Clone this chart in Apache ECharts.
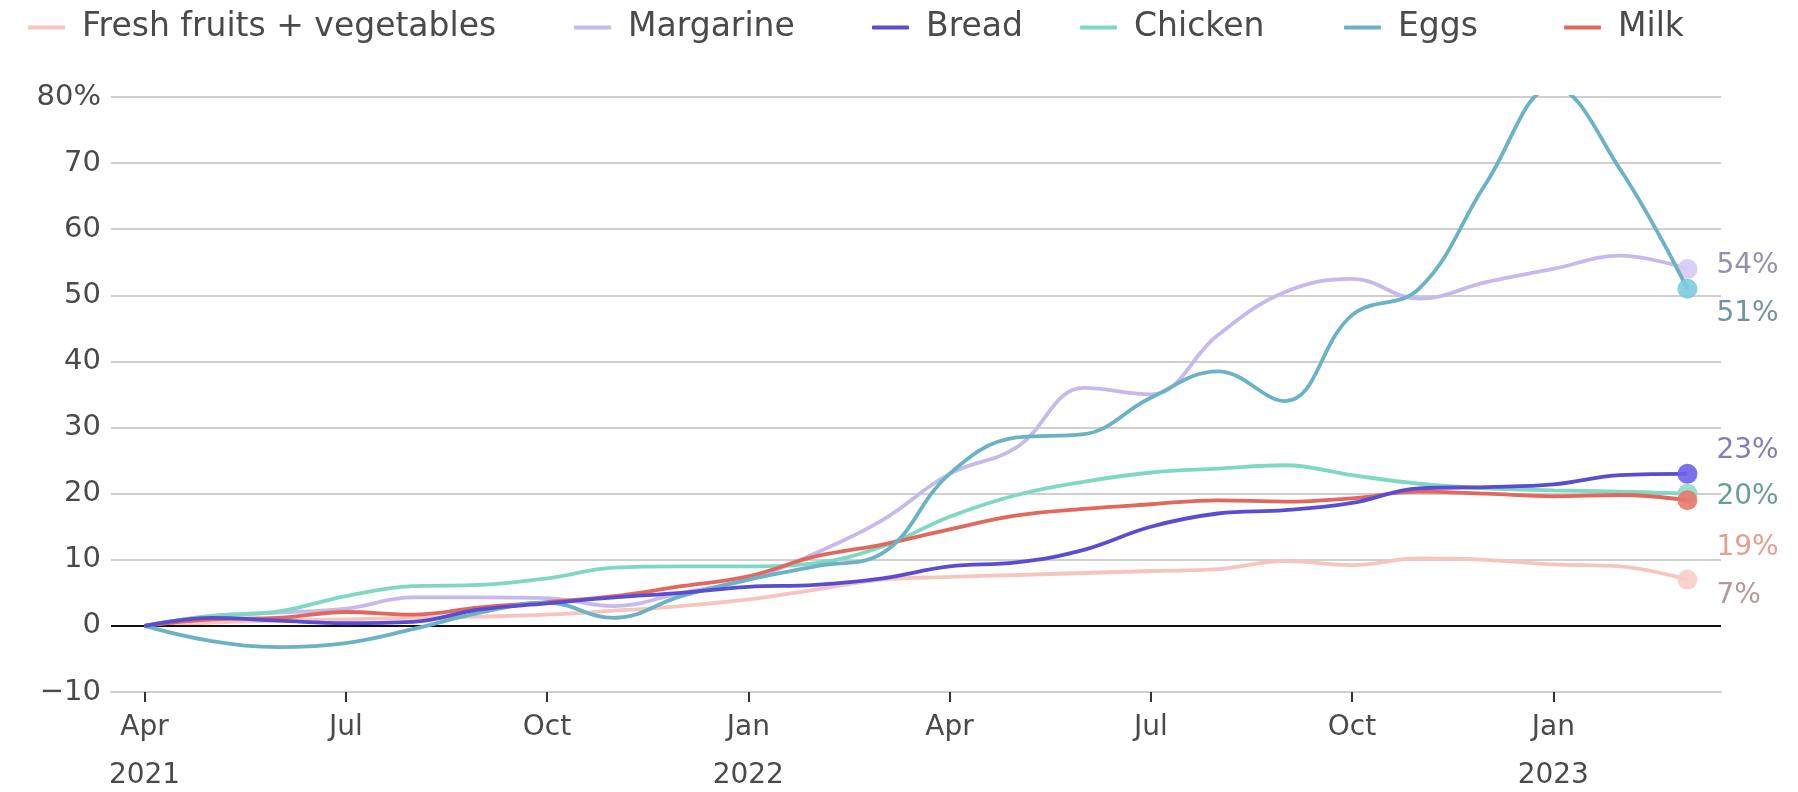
<!DOCTYPE html>
<html>
<head>
<meta charset="utf-8">
<title>Price change since April 2021</title>
<script src="https://cdn.jsdelivr.net/npm/echarts@6/dist/echarts.min.js"></script>
<style>
  html, body { margin: 0; padding: 0; background: #ffffff; }
  #chart { width: 1798px; height: 792px; }
</style>
</head>
<body>
<div id="chart"></div>
<script>
// Monthly categories, April 2021 through March 2023
const months = ['Apr\n2021', 'May', 'Jun', 'Jul', 'Aug', 'Sep', 'Oct', 'Nov', 'Dec',
  'Jan\n2022', 'Feb', 'Mar', 'Apr', 'May', 'Jun', 'Jul', 'Aug', 'Sep', 'Oct', 'Nov', 'Dec',
  'Jan\n2023', 'Feb', 'Mar'];

// Cumulative price change (%) since April 2021
const freshProduce = [0, 0.5, 0.8, 1.0, 1.2, 1.4, 1.7, 2.3, 3.0, 4.0, 5.5, 7.0, 7.4, 7.7, 8.0, 8.3, 8.6, 9.8, 9.2, 10.2, 10.0, 9.3, 9.0, 7];
const margarine = [0, 1.5, 2.0, 2.6, 4.3, 4.3, 4.2, 3.0, 5.0, 7.0, 11.0, 16.0, 23.0, 27.0, 36.0, 35.0, 44.0, 50.5, 52.5, 49.5, 52.0, 54.0, 56.0, 54];
const bread = [0, 1.2, 0.8, 0.4, 0.6, 2.5, 3.4, 4.3, 5.0, 5.9, 6.2, 7.2, 9.0, 9.6, 11.5, 15.0, 17.0, 17.5, 18.6, 20.8, 21.0, 21.4, 22.8, 23];
const chicken = [0, 1.5, 2.2, 4.5, 6.0, 6.2, 7.2, 8.8, 9.0, 9.0, 9.5, 12.0, 16.5, 19.8, 21.8, 23.2, 23.8, 24.3, 22.8, 21.5, 20.8, 20.5, 20.3, 20];
const eggs = [0, -2.3, -3.2, -2.6, -0.5, 2.0, 3.5, 1.2, 4.5, 7.0, 9.0, 11.0, 23.0, 28.5, 29.0, 34.5, 38.5, 34.0, 47.0, 51.0, 67.0, 81.5, 69.0, 51];
const milk = [0, 1.0, 1.2, 2.1, 1.7, 2.8, 3.6, 4.5, 6.0, 7.5, 10.5, 12.3, 14.6, 16.7, 17.7, 18.4, 19.0, 18.8, 19.3, 20.3, 20.0, 19.6, 19.8, 19];

// Y axis ticks
const yMin = -10;
const yMax = 80;
const yStep = 10;

const FONT = '"DejaVu Sans", sans-serif';

// name, values, line colour, end-dot colour, end-label colour, label offset, legend x
const seriesDefs = [
  { name: 'Fresh fruits + vegetables', data: freshProduce, color: '#f5c5be', dot: '#f8cdc8', text: '#a8908f', dy: 16, legendLeft: 23, z: 2 },
  { name: 'Margarine', data: margarine, color: '#c8b9ec', dot: '#d6cbf2', text: '#8c84a0', dy: -3, legendLeft: 569, z: 3 },
  { name: 'Bread', data: bread, color: '#5b4dd2', dot: '#6c62ea', text: '#7670b4', dy: -23, legendLeft: 867, z: 7 },
  { name: 'Chicken', data: chicken, color: '#7fd9c2', dot: '#8fdcc6', text: '#5a9488', dy: 3, legendLeft: 1075, z: 4 },
  { name: 'Eggs', data: eggs, color: '#6ab3c4', dot: '#7ccbdd', text: '#608a93', dy: 25, legendLeft: 1339, z: 6 },
  { name: 'Milk', data: milk, color: '#e2675c', dot: '#e8786c', text: '#e39487', dy: 47, legendLeft: 1559, z: 5 }
];

const series = seriesDefs.map(function (d, k) {
  const last = d.data.length - 1;
  const data = d.data.map(function (v, i) {
    if (i !== last) return v;
    return {
      value: v,
      symbol: 'circle',
      symbolSize: 20,
      itemStyle: { color: d.dot, opacity: 0.9 },
      label: {
        show: true,
        position: 'right',
        distance: 19,
        offset: [0, d.dy],
        formatter: function (p) { return Math.round(p.value) + '%'; },
        color: d.text,
        fontFamily: FONT,
        fontSize: 28
      }
    };
  });
  const s = {
    name: d.name,
    type: 'line',
    data: data,
    z: d.z,
    smooth: 0.4,
    symbol: 'none',
    showSymbol: true,
    lineStyle: { color: d.color, width: 3.8 },
    itemStyle: { color: d.color },
    label: { show: false },
    emphasis: { disabled: true }
  };
  if (k === 0) {
    // zero baseline
    s.markLine = {
      silent: true,
      symbol: ['none', 'none'],
      label: { show: false },
      lineStyle: { color: '#111111', width: 2, type: 'solid' },
      data: [{ yAxis: 0 }]
    };
  }
  return s;
});

// One legend per item so each entry sits at its own position along the top row
const legends = seriesDefs.map(function (d) {
  return {
    data: [d.name],
    left: d.legendLeft,
    top: 6,
    icon: 'roundRect',
    itemWidth: 37,
    itemHeight: 4,
    selectedMode: false,
    textStyle: { fontFamily: FONT, fontSize: 33, color: '#4a4a4a', padding: [0, 0, 0, 12] }
  };
});

const chart = echarts.init(document.getElementById('chart'));
chart.setOption({
  animation: false,
  backgroundColor: '#ffffff',
  legend: legends,
  grid: { left: 111, right: 77, top: 97, bottom: 100, containLabel: false, outerBoundsMode: 'none' },
  xAxis: {
    type: 'category',
    data: months,
    boundaryGap: true,
    axisLine: { show: true, onZero: false, lineStyle: { color: '#cfcfcf', width: 2 } },
    axisTick: { show: true, alignWithLabel: true, interval: 2, length: 10, lineStyle: { color: '#333333', width: 2 } },
    axisLabel: {
      interval: 2,
      margin: 12,
      fontFamily: FONT,
      fontSize: 28,
      lineHeight: 48,
      color: '#4a4a4a'
    },
    splitLine: { show: false }
  },
  yAxis: {
    type: 'value',
    min: yMin,
    max: yMax,
    interval: yStep,
    axisLine: { show: false },
    axisTick: { show: false },
    axisLabel: {
      margin: 10,
      fontFamily: FONT,
      fontSize: 29,
      color: '#4a4a4a',
      formatter: function (v) {
        if (v === yMax) return v + '%';
        if (v < 0) return '\u2212' + (-v);
        return String(v);
      }
    },
    splitLine: { show: true, lineStyle: { color: '#cfcfcf', width: 2 } }
  },
  series: series
});
</script>
</body>
</html>
